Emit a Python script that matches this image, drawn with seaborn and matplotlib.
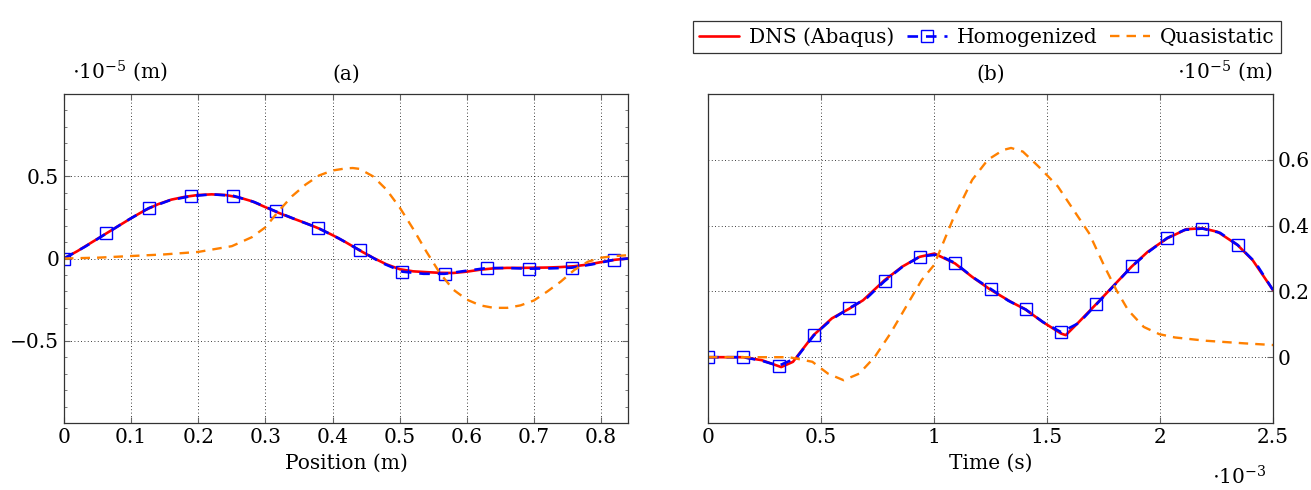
import numpy as np
import seaborn as sns
import matplotlib.pyplot as plt
from matplotlib.ticker import MultipleLocator

# ---- (a) displacement along the bar, units of 1e-5 m ----
pos_dns = [0.00, 0.02, 0.04, 0.06, 0.08, 0.10, 0.12, 0.14, 0.16, 0.18, 0.20,
           0.22, 0.24, 0.26, 0.28, 0.30, 0.32, 0.34, 0.36, 0.38, 0.40, 0.42,
           0.44, 0.46, 0.48, 0.50, 0.52, 0.54, 0.56, 0.58, 0.60, 0.62, 0.64,
           0.66, 0.68, 0.70, 0.72, 0.74, 0.76, 0.78, 0.80, 0.82, 0.84]
u_dns_a = [0.000, 0.045, 0.095, 0.145, 0.195, 0.245, 0.292, 0.330, 0.358, 0.375,
           0.386, 0.390, 0.386, 0.372, 0.348, 0.312, 0.277, 0.245, 0.215, 0.182,
           0.142, 0.098, 0.050, 0.005, -0.035, -0.065, -0.078, -0.083, -0.087,
           -0.088, -0.080, -0.068, -0.060, -0.057, -0.057, -0.056, -0.055,
           -0.052, -0.047, -0.037, -0.022, -0.008, 0.000]

pos_hom = [0.0, 0.0315, 0.063, 0.0945, 0.126, 0.1575, 0.189, 0.2205, 0.252,
           0.2835, 0.315, 0.3465, 0.378, 0.4095, 0.441, 0.4725, 0.504, 0.5355,
           0.567, 0.5985, 0.63, 0.6615, 0.693, 0.7245, 0.756, 0.7875, 0.819, 0.84]
u_hom_a = [0.000, 0.072, 0.152, 0.232, 0.306, 0.354, 0.379, 0.390, 0.381, 0.343,
           0.287, 0.235, 0.186, 0.122, 0.049, -0.025, -0.080, -0.093, -0.093,
           -0.075, -0.058, -0.058, -0.062, -0.060, -0.056, -0.035, -0.008, 0.000]

pos_qs = [0.0, 0.05, 0.10, 0.15, 0.20, 0.25, 0.28, 0.30, 0.32, 0.34, 0.36, 0.38,
          0.40, 0.42, 0.43, 0.44, 0.46, 0.48, 0.50, 0.52, 0.54, 0.56, 0.58, 0.60,
          0.62, 0.64, 0.66, 0.68, 0.70, 0.72, 0.74, 0.76, 0.78, 0.80, 0.82, 0.84]
u_qs_a = [0.000, 0.005, 0.015, 0.025, 0.040, 0.075, 0.130, 0.190, 0.290, 0.380,
          0.450, 0.505, 0.535, 0.548, 0.550, 0.545, 0.500, 0.420, 0.310, 0.180,
          0.040, -0.090, -0.190, -0.250, -0.285, -0.300, -0.300, -0.285, -0.255,
          -0.200, -0.140, -0.070, -0.020, 0.005, 0.015, 0.020]

# ---- (b) displacement over time, time in 1e-3 s ----
t_dns = [0.0, 0.155, 0.238, 0.324, 0.376, 0.467, 0.548, 0.624, 0.686, 0.781,
         0.859, 0.936, 1.002, 1.093, 1.169, 1.248, 1.341, 1.405, 1.479, 1.562,
         1.583, 1.634, 1.717, 1.790, 1.874, 1.945, 2.031, 2.117, 2.188, 2.255,
         2.343, 2.410, 2.500]
u_dns_b = [0.000, 0.000, -0.009, -0.030, -0.014, 0.067, 0.118, 0.147, 0.173,
           0.234, 0.275, 0.305, 0.315, 0.285, 0.244, 0.206, 0.168, 0.145, 0.108,
           0.072, 0.067, 0.102, 0.161, 0.214, 0.275, 0.320, 0.361, 0.389, 0.392,
           0.381, 0.341, 0.295, 0.204]

t_hom = [0.0, 0.078, 0.156, 0.234, 0.3125, 0.391, 0.469, 0.547, 0.625, 0.703,
         0.781, 0.859, 0.9375, 1.016, 1.094, 1.172, 1.25, 1.328, 1.406, 1.484,
         1.5625, 1.641, 1.719, 1.797, 1.875, 1.953, 2.031, 2.109, 2.1875, 2.266,
         2.344, 2.422, 2.5]
u_hom_b = [0.000, 0.000, 0.000, -0.010, -0.026, -0.002, 0.067, 0.115, 0.149,
           0.180, 0.231, 0.274, 0.306, 0.312, 0.286, 0.243, 0.208, 0.172, 0.145,
           0.106, 0.076, 0.104, 0.161, 0.218, 0.276, 0.322, 0.362, 0.387, 0.391,
           0.378, 0.341, 0.288, 0.204]

t_qs = [0.0, 0.359, 0.462, 0.531, 0.600, 0.669, 0.738, 0.807, 0.876, 0.945,
        1.000, 1.083, 1.169, 1.238, 1.307, 1.341, 1.393, 1.462, 1.548, 1.617,
        1.686, 1.755, 1.807, 1.859, 1.928, 1.997, 2.066, 2.203, 2.376, 2.500]
u_qs_b = [0.000, 0.000, -0.014, -0.050, -0.070, -0.050, 0.001, 0.072, 0.153,
          0.234, 0.280, 0.418, 0.539, 0.600, 0.630, 0.636, 0.625, 0.580, 0.519,
          0.448, 0.377, 0.275, 0.204, 0.143, 0.092, 0.070, 0.060, 0.050, 0.042,
          0.037]

sns.set_style("ticks")
plt.rcParams['font.family'] = ['DejaVu Serif']
plt.rcParams['mathtext.fontset'] = 'dejavuserif'
plt.rcParams['text.color'] = 'black'
plt.rcParams['axes.labelcolor'] = 'black'
FS = 14.5

RED = "#ff0000"
BLUE = "#0000ff"
ORANGE = "#ff8000"

fig = plt.figure(figsize=(13.11, 4.9), dpi=100)
ax1 = fig.add_axes([64 / 1311, 67 / 490, 564 / 1311, 329 / 490])
ax2 = fig.add_axes([708 / 1311, 67 / 490, 565 / 1311, 329 / 490])


def draw(ax, x_d, y_d, x_h, y_h, x_q, y_q, mark):
    sns.lineplot(x=x_d, y=y_d, ax=ax, color=RED, lw=1.9, sort=False,
                 estimator=None, label="DNS (Abaqus)")
    sns.lineplot(x=x_h, y=y_h, ax=ax, color=BLUE, lw=1.9, sort=False,
                 estimator=None, linestyle=(0, (4, 3)), marker="s",
                 markersize=8, markerfacecolor="none", markeredgecolor=BLUE,
                 markeredgewidth=1.0, markevery=mark, label="Homogenized")
    sns.lineplot(x=x_q, y=y_q, ax=ax, color=ORANGE, lw=1.7, sort=False,
                 estimator=None, linestyle=(0, (4, 3)), label="Quasistatic")
    ax.grid(True, color="black", linestyle=(0, (1, 3)), linewidth=0.6)
    for s in ax.spines.values():
        s.set_color("#333333")
        s.set_linewidth(0.9)
    ax.tick_params(direction="in", labelsize=FS, color="#666666",
                   labelcolor="black", length=4, top=True)
    ax.tick_params(which="minor", direction="in", length=2, color="#666666")
    ax.get_legend().remove()


draw(ax1, pos_dns, u_dns_a, pos_hom, u_hom_a, pos_qs, u_qs_a, slice(0, 27, 2))
ax1.set_xlim(0, 0.84)
ax1.set_ylim(-1.0, 1.0)
ax1.set_xticks([0, 0.1, 0.2, 0.3, 0.4, 0.5, 0.6, 0.7, 0.8])
ax1.set_xticklabels(["0", "0.1", "0.2", "0.3", "0.4", "0.5", "0.6", "0.7", "0.8"])
ax1.set_yticks([-0.5, 0, 0.5])
ax1.set_yticklabels(["\u22120.5", "0", "0.5"])
ax1.yaxis.set_minor_locator(MultipleLocator(0.1))
ax1.tick_params(axis="y", which="both", right=True)
ax1.set_xlabel("Position (m)", fontsize=FS, labelpad=5)
ax1.set_ylabel("")
ax1.text(0.015, 1.03, r"$\cdot10^{-5}$ (m)", transform=ax1.transAxes,
         fontsize=FS, ha="left", va="bottom")
ax1.text(0.5, 1.03, "(a)", transform=ax1.transAxes, fontsize=FS,
         ha="center", va="bottom")

draw(ax2, t_dns, u_dns_b, t_hom, u_hom_b, t_qs, u_qs_b, slice(0, 31, 2))
ax2.set_xlim(0, 2.5)
ax2.set_ylim(-0.2, 0.8)
ax2.set_xticks([0, 0.5, 1.0, 1.5, 2.0, 2.5])
ax2.set_xticklabels(["0", "0.5", "1", "1.5", "2", "2.5"])
ax2.set_yticks([0, 0.2, 0.4, 0.6])
ax2.set_yticklabels(["0", "0.2", "0.4", "0.6"])
ax2.yaxis.tick_right()
ax2.tick_params(axis="y", left=False, right=True)
ax2.set_xlabel("Time (s)", fontsize=FS, labelpad=5)
ax2.set_ylabel("")
ax2.text(1.0, 1.03, r"$\cdot10^{-5}$ (m)", transform=ax2.transAxes,
         fontsize=FS, ha="right", va="bottom")
ax2.text(0.5, 1.03, "(b)", transform=ax2.transAxes, fontsize=FS,
         ha="center", va="bottom")
ax2.text(0.94, -0.165, r"$\cdot10^{-3}$", transform=ax2.transAxes,
         fontsize=FS, ha="center", va="center")

handles = ax1.get_lines()[:3]
labels = ["DNS (Abaqus)", "Homogenized", "Quasistatic"]
leg = fig.legend(handles, labels, loc="upper right", ncol=3,
                 bbox_to_anchor=(1291 / 1311, 1 - 11 / 490), fontsize=FS,
                 frameon=True, fancybox=False, edgecolor="black",
                 handlelength=2.0, handletextpad=0.5, columnspacing=0.6,
                 borderpad=0.3, numpoints=1)
leg.get_frame().set_linewidth(0.9)
for h in leg.legend_handles:
    h.set_markevery([1])

fig.savefig("out.png", dpi=100)
